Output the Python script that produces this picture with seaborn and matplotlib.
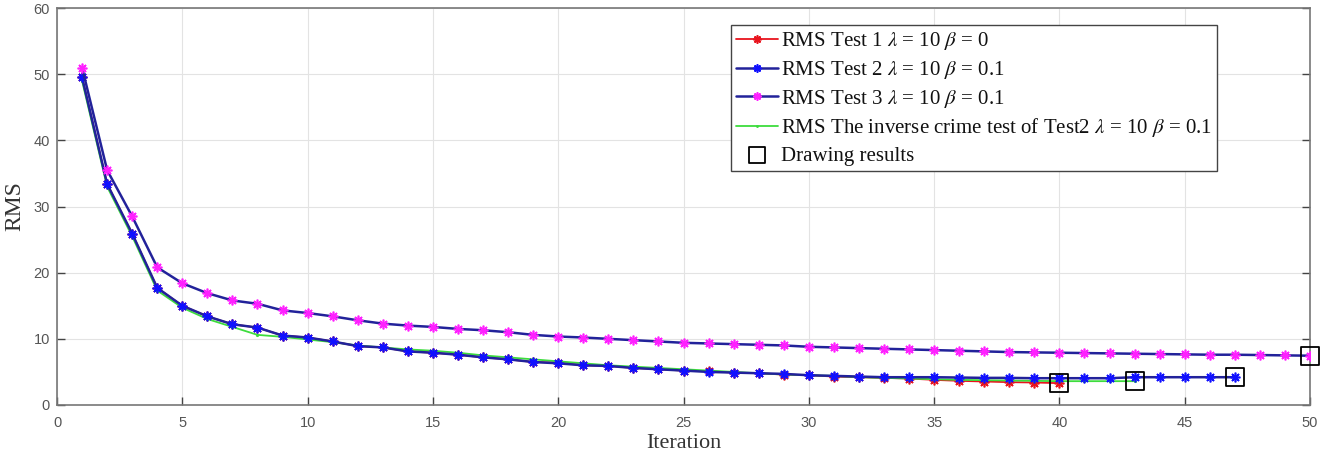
import numpy as np
import pandas as pd
import matplotlib
matplotlib.use("Agg")
import matplotlib.pyplot as plt
import seaborn as sns

# ---------------- data ----------------
iter_t1 = list(range(1, 41))
rms_t1 = [49.5, 33.4, 25.9, 17.7, 15.0, 13.4, 12.2, 11.7, 10.5, 10.2,
          9.6, 8.9, 8.7, 8.1, 7.9, 7.6, 7.2, 6.9, 6.5, 6.4,
          6.0, 5.9, 5.6, 5.4, 5.2, 5.1, 4.9, 4.8, 4.6, 4.5,
          4.3, 4.2, 4.1, 4.0, 3.8, 3.65, 3.55, 3.45, 3.4, 3.3]

iter_t2 = list(range(1, 48))
rms_t2 = [49.5, 33.4, 25.9, 17.7, 15.0, 13.4, 12.2, 11.7, 10.5, 10.2,
          9.6, 8.9, 8.7, 8.1, 7.9, 7.6, 7.2, 6.9, 6.5, 6.3,
          6.0, 5.9, 5.6, 5.4, 5.2, 5.0, 4.9, 4.8, 4.7, 4.5,
          4.4, 4.3, 4.2, 4.2, 4.2, 4.15, 4.1, 4.1, 4.05, 4.05,
          4.05, 4.05, 4.2, 4.2, 4.2, 4.2, 4.2]

iter_t3 = list(range(1, 51))
rms_t3 = [51.0, 35.5, 28.5, 20.8, 18.4, 16.9, 15.8, 15.3, 14.3, 13.9,
          13.4, 12.8, 12.3, 12.0, 11.8, 11.5, 11.3, 11.0, 10.6, 10.35,
          10.2, 10.0, 9.8, 9.6, 9.4, 9.3, 9.2, 9.1, 9.0, 8.8,
          8.7, 8.6, 8.5, 8.4, 8.3, 8.2, 8.1, 8.0, 7.95, 7.9,
          7.85, 7.8, 7.75, 7.7, 7.65, 7.6, 7.6, 7.55, 7.5, 7.45]

iter_ic = list(range(1, 44))
rms_ic = [49.0, 33.0, 25.5, 17.3, 14.7, 13.0, 11.8, 10.6, 10.3, 9.9,
          9.5, 9.0, 8.7, 8.4, 8.2, 7.9, 7.5, 7.2, 6.9, 6.6,
          6.3, 6.0, 5.8, 5.6, 5.4, 5.2, 5.0, 4.8, 4.6, 4.5,
          4.4, 4.2, 4.1, 4.0, 3.9, 3.8, 3.75, 3.7, 3.65, 3.6,
          3.6, 3.6, 3.6]

final_iter = [40, 43, 47, 50]
final_rms = [3.3, 3.6, 4.2, 7.45]

labels = [r"RMS Test 1 $\lambda$ = 10 $\beta$ = 0",
          r"RMS Test 2 $\lambda$ = 10 $\beta$ = 0.1",
          r"RMS Test 3 $\lambda$ = 10 $\beta$ = 0.1",
          r"RMS The inverse crime test of Test2 $\lambda$ = 10 $\beta$ = 0.1",
          "Drawing results"]

x_ticks = list(range(0, 51, 5))
y_ticks = list(range(0, 61, 10))

# ---------------- style ----------------
sns.set_theme(style="whitegrid")
plt.rcParams["font.family"] = ["Liberation Serif", "DejaVu Serif"]
plt.rcParams["mathtext.fontset"] = "stix"

fig = plt.figure(figsize=(13.2, 4.57), dpi=100)
ax = fig.add_axes([57 / 1320, 1 - 405 / 457, 1253 / 1320, 397 / 457])

ast = (8, 2, 0)
line_blue = "#22229a"

sns.lineplot(x=iter_t1, y=rms_t1, ax=ax, color="#e8141e", lw=1.3,
             marker=ast, markersize=7, markeredgewidth=1.2,
             markeredgecolor="#e8141e", label=labels[0], zorder=3)
sns.lineplot(x=iter_ic, y=rms_ic, ax=ax, color="#3ddc3d", lw=1.3,
             marker=".", markersize=3, markeredgecolor="#3ddc3d",
             label=labels[3], zorder=4)
sns.lineplot(x=iter_t2, y=rms_t2, ax=ax, color=line_blue, lw=1.8,
             marker=ast, markersize=7, markeredgewidth=1.2,
             markeredgecolor="#1010ff", label=labels[1], zorder=5)
sns.lineplot(x=iter_t3, y=rms_t3, ax=ax, color=line_blue, lw=1.8,
             marker=ast, markersize=7, markeredgewidth=1.2,
             markeredgecolor="#ff20ff", label=labels[2], zorder=5)
sns.scatterplot(x=final_iter, y=final_rms, ax=ax, marker="s", s=170,
                facecolor="none", edgecolor="black", linewidth=1.3,
                label=labels[4], zorder=6, clip_on=False)

ax.set_xlim(0, 50)
ax.set_ylim(0, 60)
ax.set_xticks(x_ticks)
ax.set_yticks(y_ticks)
ax.grid(True, color="#e3e3e3", lw=0.8)
ax.set_facecolor("white")
for s in ax.spines.values():
    s.set_color("#777777")
    s.set_linewidth(1.2)
ax.tick_params(direction="in", length=6, width=1, color="#444444",
               labelcolor="#555555", labelsize=10.5,
               top=False, right=True, left=True, bottom=True)
ax.tick_params(axis="x", pad=8)
ax.tick_params(axis="y", pad=5)
for lab in ax.get_xticklabels() + ax.get_yticklabels():
    lab.set_family(["Liberation Sans Narrow", "Liberation Sans", "DejaVu Sans"])

ax.set_xlabel("Iteration", fontsize=16, color="#333333", labelpad=3)
ax.set_ylabel("RMS", fontsize=17, color="#333333", labelpad=6)

# legend in original order
handles, labs = ax.get_legend_handles_labels()
order = [labs.index(l) for l in labels]
leg = ax.legend([handles[i] for i in order], [labs[i] for i in order],
                loc="upper right", bbox_to_anchor=(0.926, 0.957),
                fontsize=15, frameon=True, fancybox=False,
                edgecolor="#444444", framealpha=1, labelspacing=0.32,
                handlelength=2.0, handletextpad=0.15, borderpad=0.25,
                borderaxespad=0, markerscale=0.85)
leg.get_frame().set_linewidth(1.0)
for t in leg.get_texts():
    t.set_color("#111111")

fig.savefig("out.png", dpi=100, facecolor="white")
